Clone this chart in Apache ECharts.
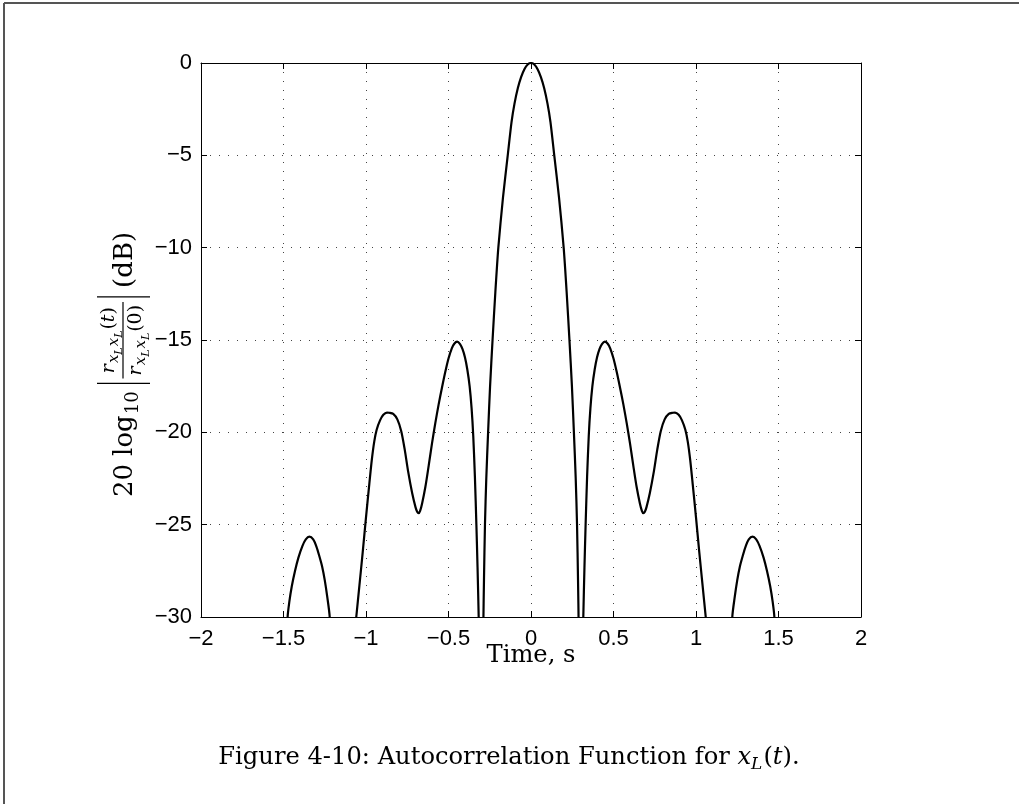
<!DOCTYPE html>
<html><head><meta charset="utf-8">
<script src="https://cdn.jsdelivr.net/npm/echarts@6/dist/echarts.min.js"></script>
<style>html,body{margin:0;padding:0;background:#fff}#c{width:1019px;height:804px}</style>
</head><body><div id="c"></div>
<script>
// ---- data ----
const xTickLabels = ['-2','-1.5','-1','-0.5','0','0.5','1','1.5','2'];
const yTickLabels = ['-30','-25','-20','-15','-10','-5','0'];

// outer-left sidelobe
const tOuterL  = [-1.482,-1.475,-1.465,-1.45,-1.43,-1.41,-1.385,-1.365,-1.343,-1.32,-1.30,-1.283,-1.265,-1.25,-1.235,-1.22,-1.214];
const dbOuterL = [-33,-30,-29.2,-28.35,-27.5,-26.8,-26.15,-25.8,-25.65,-25.8,-26.2,-26.7,-27.3,-28.0,-28.9,-30,-33];
// left sidelobes (2nd and 1st)
const tSideL  = [-1.075,-1.059,-1.04,-1.02,-1.0,-0.98,-0.965,-0.95,-0.935,-0.915,-0.895,-0.873,-0.86,-0.835,-0.81,-0.786,-0.765,-0.745,-0.72,-0.70,-0.69,-0.681,-0.672,-0.66,-0.64,-0.62,-0.60,-0.58,-0.56,-0.54,-0.52,-0.50,-0.48,-0.465,-0.448,-0.43,-0.415,-0.40,-0.386,-0.372,-0.36,-0.35,-0.34,-0.331,-0.324,-0.317,-0.312];
const dbSideL = [-31.5,-30,-28.3,-26.5,-24.6,-22.8,-21.5,-20.5,-19.85,-19.35,-19.05,-18.93,-18.94,-19.0,-19.3,-19.95,-20.95,-22.1,-23.3,-24.05,-24.3,-24.38,-24.25,-23.85,-22.95,-21.8,-20.6,-19.5,-18.5,-17.6,-16.75,-16.0,-15.45,-15.2,-15.09,-15.22,-15.5,-15.95,-16.6,-17.5,-18.7,-20.2,-22.4,-25,-27.3,-30,-32.5];
// main lobe
const tMain  = [-0.293,-0.289,-0.285,-0.279,-0.271,-0.26,-0.248,-0.233,-0.216,-0.198,-0.17,-0.141,-0.118,-0.10,-0.08,-0.06,-0.04,-0.02,0,0.02,0.04,0.06,0.08,0.10,0.118,0.141,0.17,0.198,0.216,0.233,0.248,0.26,0.271,0.279,0.285,0.289,0.293];
const dbMain = [-34,-30.5,-28,-25,-22.5,-20,-17.5,-15,-12.4,-10,-7.3,-5,-3.2,-2.2,-1.37,-0.77,-0.34,-0.085,0,-0.085,-0.34,-0.77,-1.37,-2.2,-3.2,-5,-7.3,-10,-12.4,-15,-17.5,-20,-22.5,-25,-28,-30.5,-34];
// right sidelobes (1st and 2nd)
const tSideR  = [0.312,0.317,0.324,0.331,0.34,0.35,0.36,0.372,0.386,0.40,0.415,0.43,0.448,0.465,0.48,0.50,0.52,0.54,0.56,0.58,0.60,0.62,0.64,0.66,0.672,0.681,0.69,0.70,0.72,0.745,0.765,0.786,0.81,0.835,0.86,0.873,0.895,0.915,0.935,0.95,0.965,0.98,1.0,1.02,1.04,1.059,1.075];
const dbSideR = [-32.5,-30,-27.3,-25,-22.4,-20.2,-18.7,-17.5,-16.6,-15.95,-15.5,-15.22,-15.09,-15.2,-15.45,-16.0,-16.75,-17.6,-18.5,-19.5,-20.6,-21.8,-22.95,-23.85,-24.25,-24.38,-24.3,-24.05,-23.3,-22.1,-20.95,-19.95,-19.3,-19.0,-18.94,-18.93,-19.05,-19.35,-19.85,-20.5,-21.5,-22.8,-24.6,-26.5,-28.3,-30,-31.5];
// outer-right sidelobe
const tOuterR  = [1.214,1.22,1.235,1.25,1.265,1.283,1.30,1.32,1.343,1.365,1.385,1.41,1.43,1.45,1.465,1.475,1.482];
const dbOuterR = [-33,-30,-28.9,-28.0,-27.3,-26.7,-26.2,-25.8,-25.65,-25.8,-26.15,-26.8,-27.5,-28.35,-29.2,-30,-33];

// ---- helpers ----
const SERIF = '"DejaVu Serif", "Liberation Serif", serif';
const SANS = '"Liberation Sans", Arial, sans-serif';
const ctx = document.createElement('canvas').getContext('2d');
function fontOf(size, it){ return (it ? 'italic ' : '') + size + 'px ' + SERIF; }
function mw(s, size, it){ ctx.font = fontOf(size, it); return ctx.measureText(s).width; }
function run(pieces, x0, base){
  let x = x0; const els = [];
  for (const p of pieces){
    const sz = p.size;
    els.push({type:'text', x: x, y: base + (p.dy||0) - 0.3*sz,
      style:{text:p.s, font:fontOf(sz, p.it), fill:'#000', textAlign:'left', verticalAlign:'middle', textVerticalAlign:'middle'}});
    x += mw(p.s, sz, p.it) + (p.gap||0);
  }
  return {els, width: x - x0};
}
const minus = s => String(s).replace('-', '\u2212');
const pair = (t, d) => t.map((v, i) => [v, d[i]]);

// ---- y-axis label (rotated group, local coordinates) ----
const M = 26, N = 19, S = 15, SS = 11;
const yl = [];
let cx = -137;
let r1 = run([{s:'20', size:M, gap:8},{s:'log', size:M, gap:1},{s:'10', size:18, dy:6}], cx, 0);
yl.push(...r1.els); cx += r1.width + 8;
yl.push({type:'line', shape:{x1:cx, y1:-36, x2:cx, y2:17}, style:{stroke:'#000', lineWidth:1.4}});
cx += 5;
function numPieces(last, lastIt){
  return [{s:'r', size:N, it:true, gap:1},{s:'x', size:S, it:true, dy:4},{s:'L', size:SS, it:true, dy:7, gap:1},
          {s:'x', size:S, it:true, dy:4},{s:'L', size:SS, it:true, dy:7, gap:1},
          {s:'(', size:N},{s:last, size:N, it:lastIt},{s:')', size:N}];
}
const nW = run(numPieces('t', true), 0, 0).width;
const dW = run(numPieces('0', false), 0, 0).width;
const fW = Math.max(nW, dW) + 6;
yl.push(...run(numPieces('t', true), cx + (fW - nW)/2, -18).els);
yl.push(...run(numPieces('0', false), cx + (fW - dW)/2, 9).els);
yl.push({type:'line', shape:{x1:cx, y1:-10, x2:cx + fW, y2:-10}, style:{stroke:'#000', lineWidth:1.2}});
cx += fW + 5;
yl.push({type:'line', shape:{x1:cx, y1:-36, x2:cx, y2:17}, style:{stroke:'#000', lineWidth:1.4}});
cx += 9;
yl.push(...run([{s:'(dB)', size:M}], cx, 0).els);

// ---- caption (fitted to the reference width) ----
function capPieces(c){ return [{s:'Figure 4-10: Autocorrelation Function for ', size:c},{s:'x', size:c, it:true},
  {s:'L', size:Math.round(c*0.7), it:true, dy:Math.round(c*0.2), gap:1},{s:'(', size:c},{s:'t', size:c, it:true},{s:').', size:c}]; }
let cs = 24; cs = Math.round(cs * 582 / run(capPieces(cs), 0, 0).width * 10) / 10;
const capW = run(capPieces(cs), 0, 0).width;
const cap = run(capPieces(cs), 509 - capW/2, 765).els;
let tsz = Math.round(22 * 89 / mw('Time, s', 22, false) * 10) / 10;
const tsW = mw('Time, s', tsz, false);
const ts = run([{s:'Time, s', size:tsz}], 531 - tsW/2, 663).els;

// ---- chart ----
const chart = echarts.init(document.getElementById('c'), null, {renderer:'canvas'});
const lab = {fontFamily:SANS, fontSize:22, color:'#000'};
const dotted = {show:true, lineStyle:{color:'#444', width:1, type:[1,8]}};
const lineSeries = (t, d) => ({type:'line', data:pair(t, d), smooth:0.25, showSymbol:false, clip:true,
  lineStyle:{color:'#000', width:2.2}, xAxisIndex:0, yAxisIndex:0, animation:false});
const boxAxis = {axisLine:{show:true, onZero:false, lineStyle:{color:'#000', width:1}},
  axisTick:{show:true, inside:true, length:6, lineStyle:{color:'#000'}}};
chart.setOption({
  animation:false,
  backgroundColor:'#fff',
  grid:{left:201, top:63, width:660, height:554},
  xAxis:[
    {type:'value', min:-2, max:2, interval:0.5, position:'bottom', ...boxAxis,
     axisLabel:{...lab, margin:11, formatter:(v)=>minus(xTickLabels[Math.round((v+2)/0.5)])},
     splitLine:dotted},
    {type:'value', min:-2, max:2, interval:0.5, position:'top', ...boxAxis,
     axisLabel:{show:false}, splitLine:{show:false}}
  ],
  yAxis:[
    {type:'value', min:-30, max:0, interval:5, position:'left', ...boxAxis,
     axisLabel:{...lab, margin:9, formatter:(v)=>minus(yTickLabels[Math.round((v+30)/5)])},
     splitLine:dotted},
    {type:'value', min:-30, max:0, interval:5, position:'right', ...boxAxis,
     axisLabel:{show:false}, splitLine:{show:false}}
  ],
  series:[
    lineSeries(tOuterL, dbOuterL),
    lineSeries(tSideL, dbSideL),
    lineSeries(tMain, dbMain),
    lineSeries(tSideR, dbSideR),
    lineSeries(tOuterR, dbOuterR)
  ],
  graphic:[
    {type:'line', shape:{x1:4, y1:3, x2:1019, y2:3}, style:{stroke:'#555', lineWidth:2}},
    {type:'line', shape:{x1:4, y1:3, x2:4, y2:804}, style:{stroke:'#555', lineWidth:2}},
    {type:'group', x:133, y:360, rotation:Math.PI/2, children:yl},
    {type:'group', children:cap},
    {type:'group', children:ts}
  ]
});
</script></body></html>
